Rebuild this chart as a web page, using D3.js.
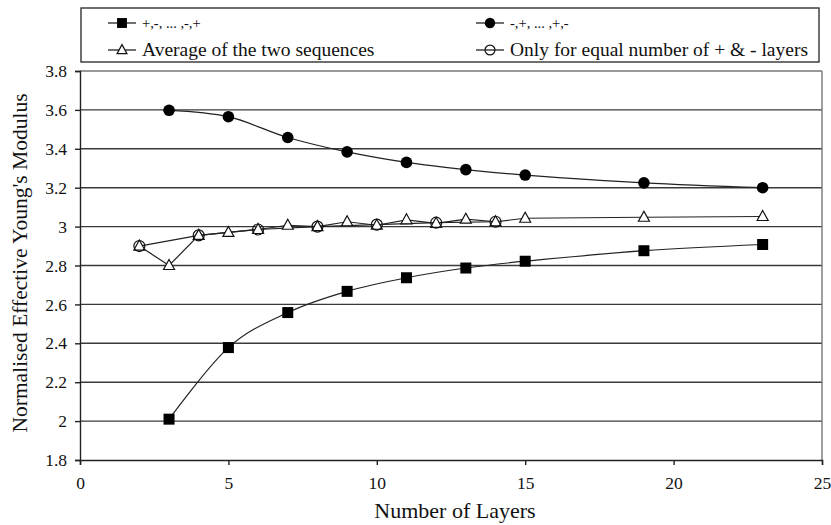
<!DOCTYPE html>
<html><head><meta charset="utf-8">
<script src="https://cdn.jsdelivr.net/npm/d3@7"></script>
<style>body{margin:0;background:#fff}svg{display:block}text{font-family:"Liberation Serif","Times New Roman",serif;fill:#111}</style>
</head><body><svg id="c" width="831" height="525"></svg>
<script>
const xTicks = [0,5,10,15,20,25];
const yTicks = [1.8,2,2.2,2.4,2.6,2.8,3,3.2,3.4,3.6,3.8];
const sqX = [3,5,7,9,11,13,15,19,23];
const sqY = [2.01,2.378,2.558,2.667,2.737,2.787,2.822,2.876,2.908];
const fcX = [3,5,7,9,11,13,15,19,23];
const fcY = [3.598,3.565,3.458,3.384,3.330,3.293,3.265,3.225,3.200];
const trX = [2,3,4,5,6,7,8,9,10,11,12,13,14,15,19,23];
const trY = [2.90,2.80,2.955,2.97,2.985,3.007,3.0,3.025,3.007,3.035,3.017,3.038,3.025,3.043,3.048,3.052];
const ocX = [2,4,6,8,10,12,14];
const ocY = [2.90,2.955,2.985,3.0,3.01,3.02,3.025];
const names = ["+,-, ... ,-,+","-,+, ... ,+,-","Average of the two sequences","Only for equal number of + & - layers"];

const svg = d3.select("#c");
const L=80,R=822,T=71,B=460;
const x = d3.scaleLinear().domain([0,25]).range([L,R]);
const y = d3.scaleLinear().domain([1.8,3.8]).range([B,T]);

// grid
svg.append("g").selectAll("line").data(yTicks.slice(1)).join("line")
  .attr("x1",L).attr("x2",R).attr("y1",d=>y(d)).attr("y2",d=>y(d))
  .attr("stroke",d=>d===3.8?"#777":"#3a3a3a").attr("stroke-width",1.4);
svg.append("line").attr("x1",R).attr("x2",R).attr("y1",T).attr("y2",B).attr("stroke","#777").attr("stroke-width",1.4);

const ax = svg.append("g").attr("transform",`translate(0,${B})`)
  .call(d3.axisBottom(x).tickValues(xTicks).tickSize(5).tickPadding(12).tickFormat(d3.format("d")));
const ay = svg.append("g").attr("transform",`translate(${L},0)`)
  .call(d3.axisLeft(y).tickValues(yTicks).tickSize(5).tickPadding(8).tickFormat(d=>String(+d.toFixed(1))));
[ax,ay].forEach(g=>{g.select(".domain").attr("stroke","#222").attr("stroke-width",1.4);
  g.selectAll(".tick line").attr("stroke","#222").attr("stroke-width",1.4);
  g.selectAll("text").style("font-size","17.5px").style("font-family","Liberation Serif").attr("fill","#111");});

svg.append("text").attr("x",455).attr("y",518).attr("text-anchor","middle").style("font-size","22px").text("Number of Layers");
svg.append("text").attr("transform","translate(27,263) rotate(-90)").attr("text-anchor","middle").style("font-size","21.5px").text("Normalised Effective Young's Modulus");

const zip=(a,b)=>a.map((v,i)=>[v,b[i]]);
const smooth = d3.line().x(d=>x(d[0])).y(d=>y(d[1])).curve(d3.curveCatmullRom.alpha(0));
const straight = d3.line().x(d=>x(d[0])).y(d=>y(d[1]));
const lineG = svg.append("g").attr("fill","none").attr("stroke","#222").attr("stroke-width",1.2);
lineG.append("path").attr("d",smooth(zip(sqX,sqY)));
lineG.append("path").attr("d",smooth(zip(fcX,fcY)));
lineG.append("path").attr("d",straight(zip(trX,trY)));
lineG.append("path").attr("d",straight(zip(ocX,ocY)));

function marker(g,type,cx,cy,s){
  s = s||1;
  if(type===0) g.append("rect").attr("x",cx-5.5*s).attr("y",cy-5.5*s).attr("width",11*s).attr("height",11*s).attr("fill","#000");
  else if(type===1) g.append("circle").attr("cx",cx).attr("cy",cy).attr("r",5.8*s).attr("fill","#000");
  else if(type===2) g.append("path").attr("d",`M${cx},${cy-6*s}L${cx+5.5*s},${cy+4*s}L${cx-5.5*s},${cy+4*s}Z`).attr("fill","#fff").attr("stroke","#111").attr("stroke-width",1.2);
  else g.append("circle").attr("cx",cx).attr("cy",cy).attr("r",5.5*s).attr("fill","none").attr("stroke","#111").attr("stroke-width",1.2);
}
const mg = svg.append("g");
zip(sqX,sqY).forEach(d=>marker(mg,0,x(d[0]),y(d[1])));
zip(fcX,fcY).forEach(d=>marker(mg,1,x(d[0]),y(d[1])));
zip(trX,trY).forEach(d=>marker(mg,2,x(d[0]),y(d[1])));
zip(ocX,ocY).forEach(d=>marker(mg,3,x(d[0]),y(d[1])));

// legend
const lg = svg.append("g");
lg.append("rect").attr("x",81).attr("y",8).attr("width",738).attr("height",54).attr("fill","#fff").attr("stroke","#333").attr("stroke-width",1.4);
const pos=[[122,23],[490,23],[122,50],[490,50]];
names.forEach((n,i)=>{
  const [cx,cy]=pos[i];
  lg.append("line").attr("x1",cx-14).attr("x2",cx+14).attr("y1",cy).attr("y2",cy).attr("stroke","#222").attr("stroke-width",1.3);
  marker(lg,i,cx,cy,0.9);
  lg.append("text").attr("x",i%2===0?142:510).attr("y",cy+(i<2?5:6)).style("font-size",i<2?"14.5px":"19.5px").text(n);
});
</script></body></html>
